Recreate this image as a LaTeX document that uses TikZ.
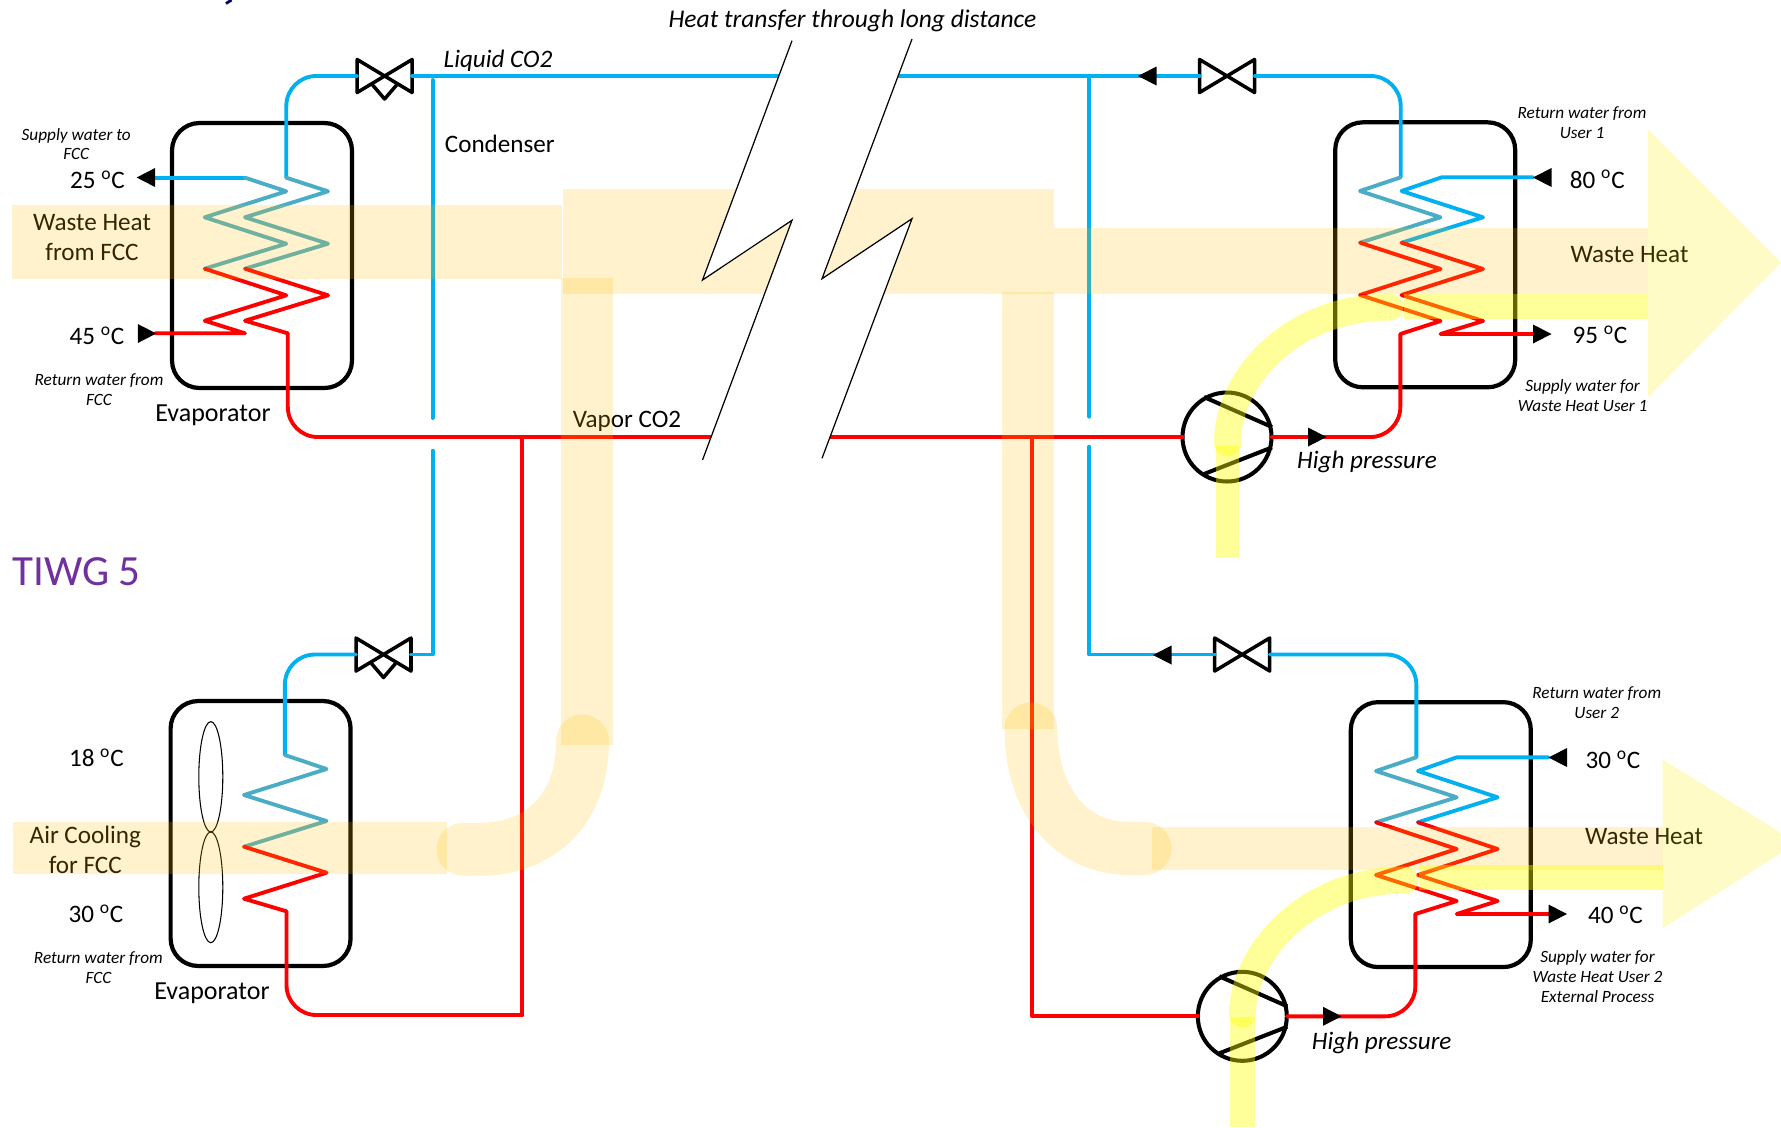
\documentclass[tikz,border=0pt]{standalone}
\usepackage{fontspec}
\setmainfont{Carlito}
\definecolor{pipeblue}{HTML}{00B0F0}
\definecolor{pipemid}{HTML}{4BACC6}
\definecolor{pipered}{HTML}{FF0000}
\definecolor{bandgold}{HTML}{FFC000}
\definecolor{bandlemon}{HTML}{FFFF00}
\definecolor{headlemon}{HTML}{FFEE00}
\definecolor{titlepurple}{HTML}{7030A0}
\newcommand{\degc}{\textsuperscript{o}C}
\tikzset{
  bluepipe/.style={draw=pipeblue,line width=2.2pt,line cap=round,line join=round},
  midpipe/.style={draw=pipemid,line width=2.2pt,line cap=round,line join=round},
  redpipe/.style={draw=pipered,line width=2.2pt,line cap=round,line join=round},
  vessel/.style={draw,line width=2.4pt,rounded corners=0.55cm,minimum width=3.6cm,minimum height=5.3cm,inner sep=0pt,outer sep=0pt},
  valvebox/.style={minimum width=1.1cm,minimum height=0.66cm,inner sep=0pt,outer sep=0pt},
  pumpbox/.style={draw,circle,line width=2.3pt,minimum size=1.78cm,inner sep=0pt,outer sep=0pt},
  lbl/.style={font=\fontsize{14.3}{17}\selectfont,align=center,inner sep=0pt},
  note/.style={font=\itshape\fontsize{9.8}{11.3}\selectfont,align=center,inner sep=0pt},
  talk/.style={font=\itshape\fontsize{14.3}{17}\selectfont,inner sep=0pt},
  goldband/.style={fill=bandgold,fill opacity=0.2},
  goldbend/.style={draw=bandgold,draw opacity=0.2,line width=1.06cm,line cap=round},
  lemonband/.style={fill=bandlemon,fill opacity=0.4},
  lemonbend/.style={draw=bandlemon,draw opacity=0.4,line width=0.54cm,line cap=round},
  lemonhead/.style={fill=headlemon,fill opacity=0.22},
}
\begin{document}
\begin{tikzpicture}[x=0.02cm,y=-0.02cm]
\useasboundingbox (0,0) rectangle (1781,1127);

% Vessels
\node[vessel] (evapA) at (262,255.5) {};
\node[vessel] (evapB) at (260.6,833.5) {};
\node[vessel] (userA) at (1425.2,254.8) {};
\node[vessel] (userB) at (1440.8,834.6) {};

% Valves
\node[valvebox] (valveA) at (384.6,76) {};
\node[valvebox] (valveB) at (1227,76) {};
\node[valvebox] (valveC) at (383.5,654.5) {};
\node[valvebox] (valveD) at (1242.2,654.5) {};
\foreach \v in {valveA,valveB,valveC,valveD}
  \draw[line width=2pt,line join=round] (\v.north west) -- (\v.south east) -- (\v.north east) -- (\v.south west) -- cycle;
\foreach \v in {valveA,valveC}
  \draw[line width=2pt,line join=round] (\v) ++(-12,9) -- ++(12,14) -- ++(12,-14);

% Pumps
\node[pumpbox] (pumpA) at (1227,437) {};
\node[pumpbox] (pumpB) at (1242.3,1016.3) {};
\foreach \p in {pumpA,pumpB} {
  \draw[line width=2.3pt] (\p) ++(-23,-40) -- ++(68,30);
  \draw[line width=2.3pt] (\p) ++(-23,37) -- ++(68,-26.6);
}

% Pipe ends at the break
\coordinate (liquidL) at (780,76);
\coordinate (liquidR) at (897,76);
\coordinate (vaporL) at (712,437);
\coordinate (vaporR) at (828.6,437);
\coordinate (teeD) at (1089.3,76);
\coordinate (joinC) at (522.4,1015);
\coordinate (joinD) at (1031.9,1016.3);

% Liquid line
\draw[bluepipe,rounded corners=0.6cm] (286.3,177.7) |- (valveA.west);
\draw[bluepipe] (valveA.east) -- (liquidL);
\draw[bluepipe] (liquidR) -- (valveB.west);
\draw[bluepipe,rounded corners=0.6cm] (valveB.east) -| (1400.7,177.3);
\draw[bluepipe] (432.6,80) -- (432.6,418);
\draw[bluepipe] (432.6,450.7) |- (valveC.east);
\draw[bluepipe,rounded corners=0.6cm] (284.9,755) |- (valveC.west);
\draw[bluepipe] (teeD) -- (1089.3,416.7);
\draw[bluepipe] (1089.3,446.7) |- (valveD.west);
\draw[bluepipe,rounded corners=0.6cm] (valveD.east) -| (1416.3,757.3);

% Vapor line
\draw[redpipe,rounded corners=0.6cm] (287.8,333.3) |- (vaporL);
\draw[redpipe,rounded corners=0.6cm] (286.5,911.3) |- (joinC);
\draw[redpipe] (joinC) -- (522.4,437);
\draw[redpipe] (vaporR) -- (pumpA.west);
\draw[redpipe] (1031.9,437) -- (joinD) -- (pumpB.west);
\draw[redpipe,rounded corners=0.6cm] (pumpA.east) -| (1400.3,334);
\draw[redpipe,rounded corners=0.6cm] (pumpB.east) -| (1415.3,914);

% Coil of the FCC evaporator
\draw[bluepipe] (155,177.7) -- (245,177.7);
\draw[midpipe] (245,177.7) -- (286.3,191.3) -- (204.7,217.3) -- (286.3,243.7) -- (204.7,268.7);
\draw[midpipe] (286.3,177.7) -- (328,191.3) -- (245,217.3) -- (328,243.7) -- (245,268.7);
\draw[redpipe] (204.7,268.7) -- (286.3,295.3) -- (204.7,320.7) -- (245,333.3) -- (155,333.3);
\draw[redpipe] (245,268.7) -- (328,295.3) -- (245,320.7) -- (287.8,333.3);

% Coil of the air cooled evaporator
\draw[midpipe] (284.9,755) -- (326.5,769) -- (244,795) -- (326.5,821) -- (244,846.7);
\draw[redpipe] (244,846.7) -- (326.5,872.7) -- (244,898.7) -- (286.5,911.3);

% Coil of user 1
\draw[midpipe] (1400.7,177.3) -- (1360,191) -- (1440.5,217.3) -- (1360,242.7);
\draw[redpipe] (1360,242.7) -- (1440.5,269) -- (1360,295) -- (1440.5,321) -- (1400.3,334);
\draw[bluepipe] (1533,177.3) -- (1441.7,177.3) -- (1401.5,191) -- (1483,217.3) -- (1401.5,242.7);
\draw[redpipe] (1401.5,242.7) -- (1483,269) -- (1401.5,295) -- (1483,321) -- (1440.5,334) -- (1533,334);

% Coil of user 2
\draw[midpipe] (1416.3,757.3) -- (1376,771) -- (1456.7,797.3) -- (1376,822.3);
\draw[redpipe] (1376,822.3) -- (1456.7,849) -- (1376,875) -- (1456.7,901) -- (1415.3,914);
\draw[bluepipe] (1548.5,757.3) -- (1456.7,757.3) -- (1417.9,771) -- (1497.6,797.3) -- (1417.9,822.3);
\draw[redpipe] (1417.9,822.3) -- (1497.6,849) -- (1417.9,875) -- (1497.6,901) -- (1456.7,914) -- (1548.5,914);

% Flow tips
\foreach \x/\y in {137.8/333.5,1533/334,1548.5/914,1308/437,1323/1016.3}
  \fill (\x,\y) -- ++(0,-9.5) -- ++(18.5,9.5) -- ++(-18.5,9.5) -- cycle;
\foreach \x/\y in {136.6/177.5,1138/76,1153/655,1533/177.5,1548.5/757.5}
  \fill (\x,\y) -- ++(18.5,-9.5) -- ++(0,19) -- cycle;

% Fan
\draw[line width=0.6pt] (210.8,776.8) ellipse (12 and 55.2);
\draw[line width=0.6pt] (210.8,887.3) ellipse (12 and 55.4);

% Text
\node[lbl] (liquidlbl) at (498,61) {\itshape Liquid CO2};
\node[lbl] (condlbl) at (499.8,144) {Condenser};
\node[lbl] (vaporlbl) at (627,421) {Vapor CO2};
\node[lbl,font=\fontsize{14.8}{17}\selectfont] (evapAlbl) at (213,415) {Evaporator};
\node[lbl,font=\fontsize{14.8}{17}\selectfont] (evapBlbl) at (212,993.7) {Evaporator};
\node[lbl,font=\fontsize{24.5}{28}\selectfont,text=titlepurple] (tiwglbl) at (76.5,572) {TIWG 5};
\node[talk,font=\itshape\fontsize{14.5}{17}\selectfont] (longlbl) at (852.5,21) {Heat transfer through long distance};
\node[talk] (highAlbl) at (1367,462) {High pressure};
\node[talk] (highBlbl) at (1381.7,1043) {High pressure};
\node[lbl] (wasteFCC) at (92,237.5) {Waste Heat\\from FCC};
\node[lbl] (airFCC) at (85.3,849.5) {Air Cooling\\for FCC};
\node[lbl] (wasteA) at (1629.5,255) {Waste Heat};
\node[lbl] (wasteB) at (1644,836.5) {Waste Heat};
\node[lbl] (t25) at (97.5,180) {25 \degc};
\node[lbl] (t45) at (97,336) {45 \degc};
\node[lbl] (t18) at (96.4,758) {18 \degc};
\node[lbl] (t30l) at (96,914) {30 \degc};
\node[lbl] (t80) at (1597.3,179.3) {80 \degc};
\node[lbl] (t95) at (1600,335) {95 \degc};
\node[lbl] (t30r) at (1613,760) {30 \degc};
\node[lbl] (t40) at (1615.5,915) {40 \degc};
\node[note] (noteSupFCC) at (76.2,144) {Supply water to\\FCC};
\node[note] (noteRetA) at (99,389.5) {Return water from\\FCC};
\node[note] (noteRetB) at (98.4,968) {Return water from\\FCC};
\node[note] (noteRetU1) at (1582,122.5) {Return water from\\User 1};
\node[note] (noteSupU1) at (1582.6,395.3) {Supply water for\\Waste Heat User 1};
\node[note] (noteRetU2) at (1596.7,702.7) {Return water from\\User 2};
\node[note] (noteSupU2) at (1597.5,976.3) {Supply water for\\Waste Heat User 2\\External Process};

% Cut off mark at the top edge
\draw[line width=1.6pt,draw=blue!40!black] (231.5,0) -- (226,3.5);

% Waste heat bands
\fill[goldband] (12,205) rectangle (561.8,278.7);
\fill[goldband] (562.9,189) rectangle (1053.6,293.7);
\fill[goldband] (1053.6,228) rectangle (1648,293.7);
\fill[goldband] (561,278) rectangle (613,745);
\fill[goldband] (1002,292) rectangle (1053.6,729);
\fill[goldband] (12.5,822) rectangle (447,874.3);
\fill[goldband] (1152,827) rectangle (1662.6,870);
\draw[goldbend] (582.5,741) .. controls (582.5,810) and (540,849) .. (480,849.3) -- (463,849.3);
\draw[goldbend] (1031,729) .. controls (1031,800) and (1070,848.5) .. (1130,848.5) -- (1145,848.5);

% Heat pump lift bands
\fill[lemonband] (1215.6,446) rectangle (1239.3,558);
\fill[lemonband] (1230,1016.7) rectangle (1255,1127);
\draw[lemonbend] (1227.5,443) .. controls (1227.5,375) and (1295,307) .. (1390,307);
\draw[lemonbend] (1242.5,1014) .. controls (1242.5,955) and (1305,880) .. (1405,880);
\fill[lemonband] (1403.5,294) rectangle (1648,318.7);
\fill[lemonband] (1419,865) rectangle (1662.6,890);
\fill[lemonhead] (1648,129.3) -- (1781,262.7) -- (1648,397.3) -- cycle;
\fill[lemonhead] (1662.6,759.3) -- (1781,833) -- (1781,853) -- (1662.6,928.3) -- cycle;

% Long distance break
\fill[white] (792,40.7) -- (702.5,280) -- (792,220.3) -- (702.5,460) -- (822,458.3) -- (912,218.7) -- (822,278.7) -- (912,39) -- cycle;
\draw[line width=0.7pt] (792,40.7) -- (702.5,280) -- (792,220.3) -- (702.5,460);
\draw[line width=0.7pt] (912,39) -- (822,278.7) -- (912,218.7) -- (822,458.3);
\end{tikzpicture}
\end{document}
